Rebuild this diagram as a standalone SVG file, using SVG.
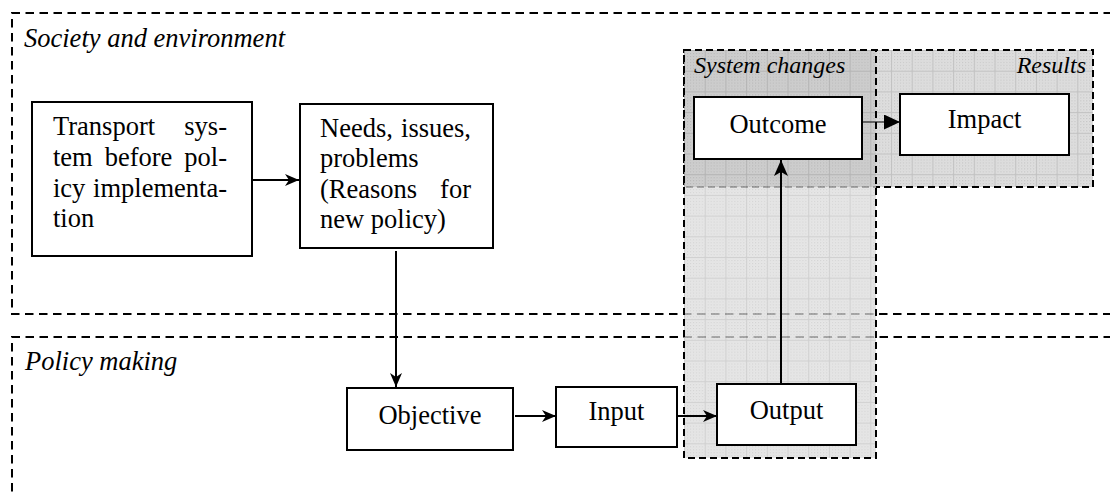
<svg xmlns="http://www.w3.org/2000/svg" width="1110" height="495" viewBox="0 0 1110 495">
<style>
.frame{fill:none;stroke:#000;stroke-width:2;stroke-dasharray:8.5 5.5}
.zone{fill:none;stroke:#000;stroke-width:2;stroke-dasharray:7 4}
.box{fill:#fff;stroke:#000;stroke-width:2}
.t{font-family:'Liberation Serif','Times New Roman',serif;font-size:26.5px;fill:#000}
.i{font-style:italic}
.s{font-size:24px}
.c{text-anchor:middle}
.e{text-anchor:end}
.con{fill:none;stroke:#000;stroke-width:2}
.thin{stroke-width:1.2}
</style>
<defs>
<pattern id="dots" width="3" height="3" patternUnits="userSpaceOnUse">
<rect width="3" height="3" fill="#e0e0e0"/>
<rect width="1" height="1" fill="#c2c2c2"/>
<rect x="1.5" y="1.5" width="1" height="1" fill="#cfcfcf"/>
</pattern>
<pattern id="grid" width="20.7" height="20.7" patternUnits="userSpaceOnUse" x="684" y="50">
<rect width="20.7" height="20.7" fill="url(#dots)"/>
<path d="M0,0.5H20.7M0.5,0V20.7" stroke="#c2c2c2" stroke-width="1" fill="none"/>
</pattern>
<marker id="ah" viewBox="0 0 14 12" refX="14" refY="6" markerWidth="14" markerHeight="12" markerUnits="userSpaceOnUse" orient="auto">
<path d="M0,0 L14,6 L0,12 L4,6 z" fill="#000"/>
</marker>
<marker id="ahb" viewBox="0 0 16 14" refX="16" refY="7" markerWidth="16" markerHeight="14" markerUnits="userSpaceOnUse" orient="auto">
<path d="M0,0 L16,7 L0,14 L4,7 z" fill="#000"/>
</marker>
<marker id="tri" viewBox="0 0 16 15" refX="16" refY="7.5" markerWidth="16" markerHeight="15" markerUnits="userSpaceOnUse" orient="auto">
<path d="M0,0 L16,7.5 L0,15 z" fill="#000"/>
</marker>
</defs>
<rect width="1110" height="495" fill="#fff"/>

<g id="society-frame">
<path class="frame" d="M1112,13 H12 V314 H1112"/>
<text class="t i" x="24" y="47">Society and environment</text>
</g>
<g id="policy-frame">
<path class="frame" d="M1112,337 H12 V497"/>
<text class="t i" x="25" y="370">Policy making</text>
</g>

<g id="results-zone">
<rect x="684" y="50" width="409" height="137" fill="url(#grid)"/>
<rect class="zone" x="684" y="50" width="409" height="137"/>
</g>
<g id="system-changes-zone">
<rect x="684" y="50" width="192" height="408" fill="url(#grid)" opacity="0.76"/>
<rect x="684" y="50" width="192" height="137" fill="#000" opacity="0.07"/>
<rect class="zone" x="684" y="50" width="192" height="408"/>
</g>
<text class="t i s" x="694" y="73">System changes</text>
<text class="t i s e" x="1086" y="73">Results</text>

<g id="connectors">
<path class="con" d="M253,180 H299" marker-end="url(#ah)"/>
<path class="con" d="M396,251 V387" marker-end="url(#ah)"/>
<path class="con" d="M515,416 H556" marker-end="url(#ah)"/>
<path class="con" d="M678,416 H717" marker-end="url(#ah)"/>
<path class="con" d="M781,384 V160" marker-end="url(#ahb)"/>
<path class="con thin" d="M863,122 H900" marker-end="url(#tri)"/>
</g>

<g id="transport">
<rect class="box" x="32" y="102" width="220" height="154"/>
<text class="t" x="53" y="135">Transport</text>
<text class="t e" x="227" y="135">sys-</text>
<text class="t" x="53" y="166">tem</text>
<text class="t" x="104.7" y="166">before</text>
<text class="t e" x="227" y="166">pol-</text>
<text class="t" x="53" y="197">icy</text>
<text class="t e" x="227" y="197">implementa-</text>
<text class="t" x="53" y="227">tion</text>
</g>
<g id="needs">
<rect class="box" x="300" y="104" width="193" height="144"/>
<text class="t" x="320" y="137">Needs,</text>
<text class="t e" x="471" y="137">issues,</text>
<text class="t" x="320" y="167">problems</text>
<text class="t" x="320" y="198">(Reasons</text>
<text class="t e" x="471" y="198">for</text>
<text class="t" x="320" y="228">new policy)</text>
</g>
<g id="outcome">
<rect class="box" x="694" y="97" width="168" height="62"/>
<text class="t c" x="778" y="133">Outcome</text>
</g>
<g id="impact">
<rect class="box" x="900" y="94" width="169" height="61"/>
<text class="t c" x="984.5" y="128">Impact</text>
</g>
<g id="objective">
<rect class="box" x="347" y="388" width="166" height="62"/>
<text class="t c" x="430" y="424">Objective</text>
</g>
<g id="input">
<rect class="box" x="556" y="387" width="121" height="60"/>
<text class="t c" x="616.5" y="420">Input</text>
</g>
<g id="output">
<rect class="box" x="717" y="384" width="139" height="61"/>
<text class="t c" x="786.5" y="419">Output</text>
</g>
</svg>
